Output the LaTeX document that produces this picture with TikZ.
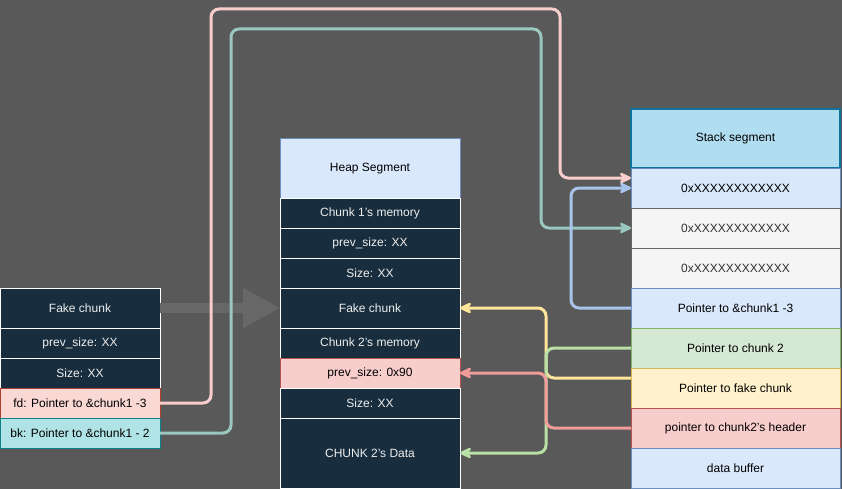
\documentclass[tikz,border=0pt]{standalone}
\usepackage{fontspec}
\setmainfont{Liberation Sans}
\usetikzlibrary{arrows.meta}

\definecolor{bgcol}{HTML}{595959}
\definecolor{heapdark}{HTML}{182E3E}
\definecolor{lighttext}{HTML}{EEEEEE}
\definecolor{bluefill}{HTML}{DAE8FC}
\definecolor{bluedraw}{HTML}{6C8EBF}
\definecolor{stackfill}{HTML}{B1DDF0}
\definecolor{stackdraw}{HTML}{10739E}
\definecolor{greyfill}{HTML}{F5F5F5}
\definecolor{greydraw}{HTML}{666666}
\definecolor{greentxt}{HTML}{333333}
\definecolor{greenfill}{HTML}{D5E8D4}
\definecolor{greendraw}{HTML}{82B366}
\definecolor{yellowfill}{HTML}{FFF2CC}
\definecolor{yellowdraw}{HTML}{D6B656}
\definecolor{redfill}{HTML}{F8CECC}
\definecolor{reddraw}{HTML}{B85450}
\definecolor{fdfill}{HTML}{FAD9D5}
\definecolor{fddraw}{HTML}{AE4132}
\definecolor{bkfill}{HTML}{B0E3E6}
\definecolor{bkdraw}{HTML}{0E8088}
\definecolor{pinkln}{HTML}{F8CECC}
\definecolor{tealln}{HTML}{9AC7BF}
\definecolor{blueln}{HTML}{A9C4EB}
\definecolor{yellowln}{HTML}{FFE599}
\definecolor{greenln}{HTML}{B9E0A5}
\definecolor{redln}{HTML}{F19C99}
\definecolor{bigarrowcol}{HTML}{676767}

\tikzset{
	cell/.style={draw, line width=1pt, anchor=north west, inner sep=0pt, outer sep=0pt,
		font=\fontsize{12}{14}\selectfont},
	leftcell/.style={cell, minimum width=160pt},
	heapcell/.style={cell, minimum width=180pt},
	stackcell/.style={cell, minimum width=209pt, minimum height=40pt},
	darkcell/.style={fill=heapdark, draw=white, text=lighttext},
	link/.style={draw=#1, line width=3pt, rounded corners=8pt,
		-{Stealth[length=15pt, width=14pt, inset=5pt, round]}}
}

\begin{document}
\begin{tikzpicture}[x=1pt, y=-1pt]
	\fill[bgcol] (0,0) rectangle (842,489);
	\useasboundingbox (0,0) rectangle (842,489);

	% fake chunk built in the buffer
	\node[leftcell, darkcell, minimum height=40pt] (lfake) at (0,288) {Fake chunk};
	\node[leftcell, darkcell, minimum height=30pt] (lprev) at (0,328) {prev\_size: XX};
	\node[leftcell, darkcell, minimum height=30pt] (lsize) at (0,358) {Size: XX};
	\node[leftcell, fill=fdfill, draw=fddraw, minimum height=30pt] (fd) at (0,388) {fd: Pointer to \&chunk1 -3};
	\node[leftcell, fill=bkfill, draw=bkdraw, minimum height=30pt] (bk) at (0,418) {bk: Pointer to \&chunk1 - 2};

	% heap
	\node[heapcell, fill=bluefill, draw=bluedraw, minimum height=60pt] (heap) at (280,139) {Heap Segment};
	\node[heapcell, darkcell, minimum height=30pt] (hmem1) at (280,198) {Chunk 1's memory};
	\node[heapcell, darkcell, minimum height=30pt] (hprev1) at (280,228) {prev\_size: XX};
	\node[heapcell, darkcell, minimum height=30pt] (hsize1) at (280,258) {Size: XX};
	\node[heapcell, darkcell, minimum height=40pt] (hfake) at (280,288) {Fake chunk};
	\node[heapcell, darkcell, minimum height=30pt] (hmem2) at (280,328) {Chunk 2's memory};
	\node[heapcell, fill=redfill, draw=reddraw, minimum height=30pt] (hprev2) at (280,358) {prev\_size: 0x90};
	\node[heapcell, darkcell, minimum height=30pt] (hsize2) at (280,388) {Size: XX};
	\node[heapcell, darkcell, minimum height=70pt] (hdata) at (280,418) {CHUNK 2's Data};

	% stack
	\node[stackcell, fill=stackfill, draw=stackdraw, line width=1.5pt, minimum height=59pt] (stack) at (631,109) {Stack segment};
	\node[stackcell, fill=bluefill, draw=bluedraw] (s1) at (631,168) {0xXXXXXXXXXXXX};
	\node[stackcell, fill=greyfill, draw=greydraw, text=greentxt] (s2) at (631,208) {0xXXXXXXXXXXXX};
	\node[stackcell, fill=greyfill, draw=greydraw, text=greentxt] (s3) at (631,248) {0xXXXXXXXXXXXX};
	\node[stackcell, fill=bluefill, draw=bluedraw] (s4) at (631,288) {Pointer to \&chunk1 -3};
	\node[stackcell, fill=greenfill, draw=greendraw] (s5) at (631,328) {Pointer to chunk 2};
	\node[stackcell, fill=yellowfill, draw=yellowdraw] (s6) at (631,368) {Pointer to fake chunk};
	\node[stackcell, fill=redfill, draw=reddraw] (s7) at (631,408) {pointer to chunk2's header};
	\node[stackcell, fill=bluefill, draw=bluedraw] (s8) at (631,448) {data buffer};

	% big grey arrow
	\draw[bigarrowcol, line width=10pt, -{Triangle[length=37pt, width=38pt]}] (lfake.east) -- (hfake.west);

	% pointers
	\draw[link=pinkln] (fd.east) -| (211,9) -| (560,178) -- ([yshift=10pt]s1.west);
	\draw[link=tealln] (bk.east) -| (231,29) -| (541,228) -- (s2.west);
	\draw[link=blueln] (s4.west) -| (571,188) -- (s1.west);
	\draw[link=yellowln] ([yshift=10pt]s6.west) -| (546,308) -- (hfake.east);
	\draw[link=greenln] (s5.west) -| (546,453) -- (hdata.east);
	\draw[link=redln] (s7.west) -| (546,373) -- (hprev2.east);
\end{tikzpicture}
\end{document}
